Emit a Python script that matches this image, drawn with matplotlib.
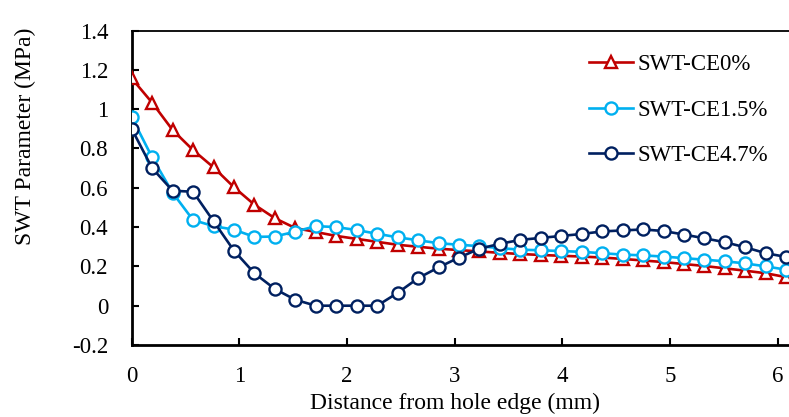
import matplotlib.pyplot as plt

plt.rcParams['font.family'] = ['Liberation Serif', 'DejaVu Serif']

# distance from the hole edge (mm)
distance = [0.00, 0.19, 0.38, 0.57, 0.76, 0.95, 1.14, 1.33, 1.52, 1.71, 1.90,
            2.09, 2.28, 2.47, 2.66, 2.85, 3.04, 3.23, 3.42, 3.61, 3.80, 3.99,
            4.18, 4.37, 4.56, 4.75, 4.94, 5.13, 5.32, 5.51, 5.70, 5.89, 6.08]

# SWT parameter (MPa)
swt_ce0 = [1.157, 1.033, 0.894, 0.792, 0.704, 0.603, 0.514, 0.445, 0.395, 0.375, 0.355,
           0.340, 0.325, 0.310, 0.300, 0.290, 0.283, 0.276, 0.269, 0.263, 0.258, 0.254,
           0.250, 0.245, 0.238, 0.230, 0.222, 0.212, 0.202, 0.190, 0.178, 0.165, 0.145]
swt_ce15 = [0.960, 0.755, 0.575, 0.436, 0.405, 0.387, 0.350, 0.352, 0.377, 0.405, 0.400,
            0.385, 0.366, 0.348, 0.333, 0.318, 0.310, 0.303, 0.293, 0.285, 0.282, 0.278,
            0.274, 0.267, 0.260, 0.256, 0.250, 0.242, 0.234, 0.226, 0.215, 0.200, 0.183]
swt_ce47 = [0.900, 0.700, 0.585, 0.580, 0.430, 0.280, 0.165, 0.085, 0.030, 0.000, 0.000,
            0.000, 0.000, 0.065, 0.140, 0.195, 0.245, 0.290, 0.315, 0.335, 0.345, 0.355,
            0.365, 0.378, 0.383, 0.388, 0.380, 0.362, 0.343, 0.323, 0.297, 0.267, 0.248]

fig = plt.figure(figsize=(7.89, 4.17), dpi=100)
ax = fig.add_axes([0.1669, 0.1727, 0.8331, 0.7539])

ax.plot(distance, swt_ce0, color='#C00000', lw=1.9, marker='^', ms=9,
        mfc='white', mec='#C00000', mew=1.7, label='SWT-CE0%', zorder=3)
ax.plot(distance, swt_ce15, color='#00B0F0', lw=1.9, marker='o', ms=8.7,
        mfc='white', mec='#00B0F0', mew=1.7, label='SWT-CE1.5%', zorder=4)
ax.plot(distance, swt_ce47, color='#002060', lw=1.9, marker='o', ms=8.7,
        mfc='white', mec='#002060', mew=1.7, label='SWT-CE4.7%', zorder=5)

ax.set_xlim(0, 6.105)
ax.set_ylim(-0.2, 1.4)
ax.set_xticks([0, 1, 2, 3, 4, 5, 6])
ax.set_xticklabels(['0', '1', '2', '3', '4', '5', '6'])
ax.set_yticks([-0.2, 0, 0.2, 0.4, 0.6, 0.8, 1.0, 1.2, 1.4])
ax.set_yticklabels(['-0.2', '0', '0.2', '0.4', '0.6', '0.8', '1', '1.2', '1.4'])
ax.tick_params(direction='in', length=5, width=1.5, labelsize=16.5)
ax.tick_params(axis='y', pad=17)
ax.tick_params(axis='x', pad=15)

ax.spines['left'].set_linewidth(2.0)
ax.spines['bottom'].set_linewidth(2.0)
ax.spines['top'].set_linewidth(1.3)
ax.spines['right'].set_visible(False)

# axis titles placed in figure coordinates
fig.text(454.5 / 789, 1 - 403 / 417, 'Distance from hole edge (mm)',
         fontsize=17, ha='center', va='center')
fig.text(25 / 789, 1 - 136.5 / 417, 'SWT Parameter (MPa)',
         fontsize=17, ha='center', va='center', rotation=90)

ax.legend(loc='upper left', bbox_to_anchor=(0.6645, 0.99), frameon=False,
          fontsize=16.5, handlelength=1.9, handletextpad=0.2, labelspacing=1.05)

fig.savefig('out.png', dpi=100)
